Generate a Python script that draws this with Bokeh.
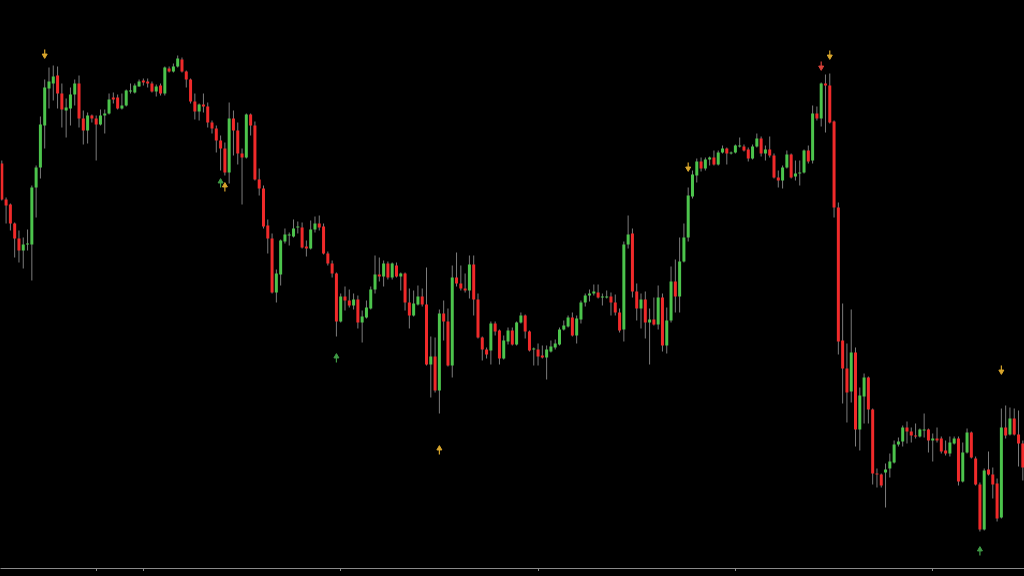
import numpy as np
from bokeh.plotting import figure
from bokeh.models import ColumnDataSource, Range1d, FixedTicker, GlobalInlineStyleSheet
from bokeh.embed import file_html
from bokeh.resources import INLINE

# ---- candle data (price) ----
open_ = [1.0837,1.0801,1.0796,1.0777,1.0762,1.0750,1.0756,1.0756,1.0813,1.0833,
         1.0875,1.0912,1.0917,1.0925,1.0907,1.0890,1.0892,1.0906,1.0917,1.0882,
         1.0870,1.0885,1.0882,1.0876,1.0885,1.0887,1.0903,1.0903,1.0892,1.0895,
         1.0909,1.0908,1.0914,1.0920,1.0919,1.0917,1.0909,1.0915,1.0907,1.0932,
         1.0929,1.0934,1.0941,1.0929,1.0921,1.0899,1.0889,1.0896,1.0894,1.0878,
         1.0872,1.0860,1.0852,1.0828,1.0882,1.0870,1.0847,1.0843,1.0886,1.0875,
         1.0821,1.0812,1.0775,1.0762,1.0708,1.0726,1.0759,1.0765,1.0764,1.0773,
         1.0773,1.0754,1.0752,1.0771,1.0777,1.0774,1.0747,1.0737,1.0727,1.0679,
         1.0704,1.0700,1.0695,1.0701,1.0678,1.0683,1.0692,1.0711,1.0726,1.0724,
         1.0737,1.0723,1.0735,1.0724,1.0727,1.0698,1.0685,1.0696,1.0704,1.0696,
         1.0636,1.0644,1.0610,1.0687,1.0679,1.0635,1.0723,1.0717,1.0712,1.0710,
         1.0736,1.0701,1.0663,1.0651,1.0650,1.0677,1.0670,1.0642,1.0659,1.0670,
         1.0656,1.0678,1.0685,1.0669,1.0651,1.0651,1.0645,1.0643,1.0649,1.0653,
         1.0656,1.0671,1.0674,1.0683,1.0665,1.0681,1.0698,1.0705,1.0707,1.0708,
         1.0703,1.0703,1.0704,1.0698,1.0688,1.0671,1.0756,1.0767,1.0709,1.0692,
         1.0701,1.0678,1.0681,1.0676,1.0703,1.0655,1.0680,1.0719,1.0704,1.0739,
         1.0763,1.0804,1.0825,1.0839,1.0832,1.0841,1.0843,1.0836,1.0848,1.0852,
         1.0847,1.0848,1.0854,1.0854,1.0851,1.0842,1.0854,1.0862,1.0847,1.0851,
         1.0845,1.0823,1.0820,1.0833,1.0846,1.0824,1.0827,1.0828,1.0850,1.0840,
         1.0887,1.0882,1.0917,1.0915,1.0879,1.0793,1.0660,1.0632,1.0609,1.0648,
         1.0571,1.0604,1.0623,1.0591,1.0527,1.0526,1.0528,1.0532,1.0538,1.0556,
         1.0559,1.0573,1.0569,1.0565,1.0564,1.0570,1.0571,1.0560,1.0562,1.0562,
         1.0550,1.0547,1.0557,1.0562,1.0519,1.0548,1.0568,1.0542,1.0516,1.0471,
         1.0531,1.0526,1.0517,1.0483,1.0573,1.0566,1.0582,1.0566,1.0557]
high = [1.0840,1.0803,1.0797,1.0778,1.0770,1.0763,1.0771,1.0815,1.0835,1.0884,
        1.0921,1.0933,1.0935,1.0934,1.0917,1.0902,1.0913,1.0921,1.0925,1.0890,
        1.0888,1.0886,1.0885,1.0891,1.0891,1.0907,1.0908,1.0906,1.0907,1.0911,
        1.0917,1.0917,1.0921,1.0922,1.0922,1.0919,1.0916,1.0917,1.0934,1.0934,
        1.0937,1.0945,1.0943,1.0930,1.0922,1.0907,1.0897,1.0907,1.0898,1.0880,
        1.0875,1.0865,1.0858,1.0898,1.0890,1.0878,1.0852,1.0887,1.0887,1.0879,
        1.0832,1.0815,1.0781,1.0767,1.0731,1.0761,1.0772,1.0768,1.0781,1.0779,
        1.0778,1.0760,1.0780,1.0784,1.0785,1.0777,1.0749,1.0740,1.0728,1.0707,
        1.0714,1.0711,1.0707,1.0705,1.0690,1.0700,1.0714,1.0745,1.0743,1.0740,
        1.0739,1.0738,1.0738,1.0728,1.0728,1.0712,1.0710,1.0715,1.0712,1.0733,
        1.0664,1.0663,1.0691,1.0700,1.0692,1.0735,1.0748,1.0735,1.0727,1.0745,
        1.0745,1.0707,1.0664,1.0653,1.0679,1.0679,1.0671,1.0665,1.0673,1.0673,
        1.0679,1.0688,1.0686,1.0670,1.0653,1.0657,1.0655,1.0655,1.0660,1.0661,
        1.0673,1.0680,1.0685,1.0688,1.0685,1.0700,1.0707,1.0711,1.0716,1.0716,
        1.0707,1.0710,1.0708,1.0706,1.0692,1.0759,1.0785,1.0772,1.0717,1.0707,
        1.0709,1.0692,1.0703,1.0715,1.0707,1.0693,1.0734,1.0741,1.0763,1.0777,
        1.0813,1.0830,1.0842,1.0843,1.0843,1.0844,1.0850,1.0850,1.0855,1.0853,
        1.0849,1.0856,1.0863,1.0856,1.0853,1.0856,1.0867,1.0864,1.0855,1.0864,
        1.0847,1.0830,1.0835,1.0850,1.0847,1.0840,1.0840,1.0851,1.0855,1.0895,
        1.0894,1.0918,1.0926,1.0927,1.0880,1.0798,1.0697,1.0657,1.0691,1.0653,
        1.0613,1.0627,1.0624,1.0592,1.0532,1.0527,1.0537,1.0547,1.0560,1.0563,
        1.0575,1.0579,1.0573,1.0577,1.0572,1.0587,1.0572,1.0567,1.0573,1.0564,
        1.0560,1.0564,1.0564,1.0564,1.0558,1.0572,1.0569,1.0544,1.0518,1.0532,
        1.0549,1.0533,1.0522,1.0592,1.0595,1.0593,1.0592,1.0590,1.0560]
low = [1.0800,1.0777,1.0770,1.0743,1.0738,1.0732,1.0750,1.0720,1.0783,1.0822,
       1.0852,1.0892,1.0900,1.0892,1.0873,1.0863,1.0875,1.0895,1.0873,1.0856,
       1.0857,1.0878,1.0840,1.0875,1.0867,1.0886,1.0897,1.0891,1.0891,1.0894,
       1.0907,1.0907,1.0914,1.0915,1.0913,1.0908,1.0904,1.0905,1.0905,1.0928,
       1.0928,1.0933,1.0928,1.0913,1.0897,1.0881,1.0880,1.0888,1.0873,1.0867,
       1.0848,1.0830,1.0825,1.0817,1.0845,1.0836,1.0796,1.0842,1.0865,1.0820,
       1.0805,1.0772,1.0747,1.0707,1.0698,1.0715,1.0757,1.0755,1.0763,1.0767,
       1.0752,1.0744,1.0751,1.0768,1.0770,1.0746,1.0735,1.0723,1.0664,1.0678,
       1.0690,1.0693,1.0691,1.0672,1.0658,1.0682,1.0691,1.0707,1.0719,1.0714,
       1.0721,1.0721,1.0723,1.0710,1.0690,1.0672,1.0684,1.0695,1.0694,1.0635,
       1.0603,1.0608,1.0587,1.0660,1.0634,1.0623,1.0714,1.0710,1.0708,1.0702,
       1.0685,1.0662,1.0640,1.0642,1.0636,1.0665,1.0636,1.0641,1.0656,1.0655,
       1.0655,1.0677,1.0662,1.0649,1.0635,1.0635,1.0642,1.0621,1.0648,1.0651,
       1.0655,1.0670,1.0673,1.0664,1.0657,1.0677,1.0694,1.0699,1.0705,1.0702,
       1.0695,1.0702,1.0685,1.0685,1.0668,1.0659,1.0752,1.0703,1.0680,1.0672,
       1.0662,1.0636,1.0675,1.0671,1.0649,1.0647,1.0678,1.0688,1.0688,1.0738,
       1.0759,1.0802,1.0818,1.0829,1.0830,1.0835,1.0835,1.0835,1.0847,1.0836,
       1.0846,1.0847,1.0853,1.0849,1.0839,1.0841,1.0853,1.0844,1.0840,1.0843,
       1.0822,1.0813,1.0812,1.0832,1.0822,1.0820,1.0815,1.0827,1.0837,1.0837,
       1.0880,1.0874,1.0868,1.0877,1.0783,1.0646,1.0597,1.0578,1.0598,1.0554,
       1.0550,1.0577,1.0577,1.0516,1.0513,1.0513,1.0493,1.0523,1.0537,1.0554,
       1.0554,1.0557,1.0558,1.0562,1.0563,1.0563,1.0548,1.0539,1.0558,1.0547,
       1.0545,1.0544,1.0556,1.0515,1.0518,1.0547,1.0542,1.0515,1.0469,1.0470,
       1.0525,1.0502,1.0479,1.0482,1.0562,1.0565,1.0565,1.0534,1.0520]
close = [1.0801,1.0795,1.0777,1.0762,1.0750,1.0756,1.0757,1.0813,1.0833,1.0876,
         1.0913,1.0919,1.0924,1.0907,1.0891,1.0893,1.0906,1.0917,1.0882,1.0870,
         1.0885,1.0882,1.0876,1.0885,1.0887,1.0901,1.0901,1.0892,1.0895,1.0910,
         1.0910,1.0915,1.0919,1.0918,1.0917,1.0909,1.0914,1.0907,1.0933,1.0929,
         1.0934,1.0942,1.0929,1.0921,1.0899,1.0889,1.0896,1.0894,1.0878,1.0872,
         1.0860,1.0852,1.0828,1.0882,1.0870,1.0847,1.0843,1.0886,1.0875,1.0821,
         1.0812,1.0774,1.0762,1.0708,1.0727,1.0760,1.0766,1.0766,1.0772,1.0774,
         1.0753,1.0752,1.0771,1.0777,1.0773,1.0747,1.0737,1.0727,1.0679,1.0704,
         1.0700,1.0695,1.0701,1.0678,1.0684,1.0693,1.0711,1.0726,1.0724,1.0737,
         1.0723,1.0737,1.0724,1.0727,1.0698,1.0685,1.0697,1.0704,1.0696,1.0636,
         1.0644,1.0610,1.0687,1.0679,1.0635,1.0723,1.0717,1.0712,1.0710,1.0736,
         1.0701,1.0663,1.0651,1.0646,1.0677,1.0669,1.0642,1.0660,1.0670,1.0656,
         1.0678,1.0685,1.0669,1.0650,1.0652,1.0644,1.0643,1.0651,1.0654,1.0657,
         1.0671,1.0675,1.0683,1.0665,1.0682,1.0698,1.0705,1.0707,1.0709,1.0703,
         1.0704,1.0704,1.0698,1.0688,1.0670,1.0756,1.0766,1.0709,1.0692,1.0701,
         1.0678,1.0681,1.0676,1.0703,1.0655,1.0680,1.0719,1.0704,1.0739,1.0763,
         1.0805,1.0826,1.0839,1.0832,1.0841,1.0843,1.0836,1.0848,1.0852,1.0847,
         1.0848,1.0855,1.0855,1.0850,1.0842,1.0854,1.0862,1.0847,1.0851,1.0845,
         1.0823,1.0820,1.0833,1.0846,1.0823,1.0827,1.0828,1.0850,1.0839,1.0887,
         1.0882,1.0917,1.0915,1.0878,1.0793,1.0659,1.0632,1.0608,1.0648,1.0571,
         1.0605,1.0623,1.0591,1.0527,1.0526,1.0515,1.0531,1.0539,1.0556,1.0559,
         1.0573,1.0569,1.0565,1.0564,1.0571,1.0571,1.0560,1.0562,1.0560,1.0549,
         1.0547,1.0558,1.0562,1.0519,1.0548,1.0568,1.0543,1.0516,1.0471,1.0530,
         1.0526,1.0516,1.0482,1.0573,1.0565,1.0582,1.0566,1.0557,1.0533]

# date separator ticks (bar index)
tick_idx = [22, 33, 79, 125, 171, 217]

# signal arrows
down_idx = [10, 160, 191, 193, 233]
down_price = [1.0947, 1.0834, 1.0935, 1.0946, 1.0631]
down_kind = ["gold", "gold", "red", "gold", "gold"]
up_idx = [51, 52, 78, 102, 228]
up_price = [1.0817, 1.0813, 1.0642, 1.0550, 1.0449]
up_kind = ["green", "gold", "green", "gold", "green"]

BULL = "#4cc44c"
BEAR = "#f02a2a"
WICK = "#7c7c7c"
ARROW = {"gold": "#d9a62c", "red": "#d9423a", "green": "#3f9a45"}

n = len(open_)
idx = np.arange(n)
o = np.array(open_); c = np.array(close)
src = ColumnDataSource(dict(
    x=idx, high=high, low=low,
    top=np.maximum(o, c), bottom=np.minimum(o, c),
    color=[BULL if cc >= oo else BEAR for oo, cc in zip(open_, close)],
))

spacing = 4.29
first_px = 1.3
x_start = (0 - first_px) / spacing
x_end = (1024 - first_px) / spacing

p = figure(frame_width=1024, frame_height=568, output_backend="svg",
           toolbar_location=None, y_axis_location=None, x_axis_location="below",
           x_range=Range1d(x_start, x_end), y_range=Range1d(1.0432, 1.1000),
           background_fill_color="#000000", border_fill_color="#000000",
           outline_line_color=None, min_border=0)
p.stylesheets = [GlobalInlineStyleSheet(css="html,body{background-color:#000000;overflow:hidden;}")]
p.grid.visible = False

p.segment(x0="x", y0="low", x1="x", y1="high", source=src, line_color=WICK, line_width=1)
p.vbar(x="x", width=0.7, top="top", bottom="bottom", source=src,
       fill_color="color", line_color=None)

# arrows: stem + head
dsrc = ColumnDataSource(dict(x=down_idx, y=down_price,
                             ys=[v + 0.0004 for v in down_price],
                             ye=[v - 0.0001 for v in down_price],
                             yh=[v - 0.0002 for v in down_price],
                             col=[ARROW[k] for k in down_kind]))
usrc = ColumnDataSource(dict(x=up_idx, y=up_price,
                             ys=[v - 0.0004 for v in up_price],
                             ye=[v + 0.0001 for v in up_price],
                             yh=[v + 0.0002 for v in up_price],
                             col=[ARROW[k] for k in up_kind]))
for s, mk in ((dsrc, "inverted_triangle"), (usrc, "triangle")):
    p.segment(x0="x", y0="ys", x1="x", y1="ye", source=s, line_color="col", line_width=1.2)
    p.scatter(x="x", y="yh", source=s, marker=mk, size=5, fill_color="col", line_color="col")

ax = p.xaxis[0]
ax.ticker = FixedTicker(ticks=tick_idx)
ax.axis_line_color = "#8a8a8a"
ax.major_tick_line_color = "#8a8a8a"
ax.major_tick_in = 0
ax.major_tick_out = 3
ax.minor_tick_line_color = None
ax.major_label_text_font_size = "0px"
ax.major_label_text_color = None
ax.major_label_standoff = 0

open("out.html", "w").write(file_html(p, INLINE))
